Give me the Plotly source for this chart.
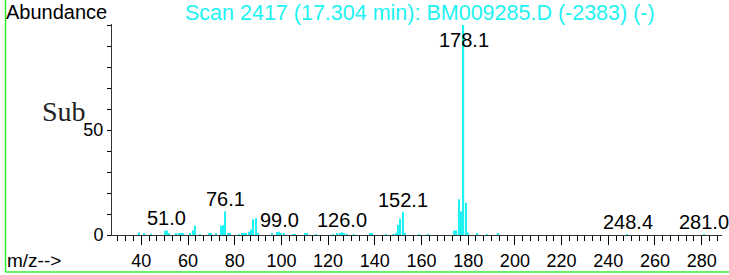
import plotly.graph_objects as go

# ---- data ----
mz = [39, 41, 44, 50, 51, 52, 55, 56, 57, 58, 61, 62, 63, 65, 69, 70, 72,
      74, 75, 76, 77, 78, 82, 83, 84, 85, 86, 87, 88, 89, 90, 96, 98, 99,
      100, 101, 105, 106, 110, 111, 115, 122, 124, 125, 126, 127, 128, 131,
      138, 139, 145, 148, 149, 150, 151, 152, 153, 159, 163, 174, 175, 176,
      177, 178, 179, 180, 184, 188, 193, 248, 281]
intensity = [1.2, 0.5, 0.4, 2.0, 2.2, 0.6, 0.6, 0.5, 0.8, 0.5, 0.7, 2.3, 4.5,
             0.4, 0.8, 0.6, 0.7, 4.4, 4.8, 11.2, 1.0, 0.5, 0.4, 0.5, 0.6, 1.0,
             1.6, 2.6, 7.5, 8.0, 0.6, 0.5, 1.4, 1.5, 1.0, 0.5, 0.4, 0.4, 0.8,
             0.8, 0.4, 0.4, 0.6, 0.9, 1.3, 0.8, 0.4, 0.4, 0.9, 0.5, 0.4, 0.4,
             0.6, 4.8, 7.8, 11.1, 1.0, 0.4, 0.4, 2.2, 2.2, 17.0, 11.2, 100.0,
             15.4, 1.2, 1.0, 0.4, 0.5, 0.3, 0.3]
peak_labels = ["51.0", "76.1", "99.0", "126.0", "152.1", "178.1", "248.4", "281.0"]
peak_mz = [51.0, 76.1, 99.0, 126.0, 152.1, 178.1, 248.4, 281.0]
x_ticks = [40, 60, 80, 100, 120, 140, 160, 180, 200, 220, 240, 260, 280]
y_tickvals = [0, 10, 20, 30, 40, 50, 60, 70, 80, 90, 100]
y_ticktext = ["0", "", "", "", "", "50", "", "", "", "", ""]
title_text = "Scan 2417 (17.304 min): BM009285.D (-2383) (-)"

# ---- layout helpers ----
W, H = 729, 275
L, R, T, B = 112, 7, 24, 40
PW, PH = W - L - R, H - T - B
CYAN = "#1EF2F2"
FONT = "Liberation Sans, Arial, sans-serif"


def px(x):
    return (x - L) / PW


def py(y):
    return (H - B - y) / PH


fig = go.Figure(go.Bar(x=mz, y=intensity, width=0.55,
                       marker=dict(color=CYAN, line=dict(width=0)),
                       hoverinfo="x+y"))

annotations = []
for lab, m in zip(peak_labels, peak_mz):
    near = min(range(len(mz)), key=lambda i: abs(mz[i] - m))
    h = min(intensity[near], 87.0)
    annotations.append(dict(x=m, y=h, xref="x", yref="y", text=lab,
                            showarrow=False, xanchor="center", yanchor="bottom",
                            yshift=-1, font=dict(family=FONT, size=20, color="black")))

annotations += [
    dict(x=px(5), y=py(12.5), xref="paper", yref="paper", text="Abundance",
         showarrow=False, xanchor="left", yanchor="middle", borderpad=0,
         font=dict(family=FONT, size=20, color="black")),
    dict(x=px(420), y=py(13), xref="paper", yref="paper", text=title_text,
         showarrow=False, xanchor="center", yanchor="middle",
         font=dict(family=FONT, size=21.5, color=CYAN)),
    dict(x=px(5), y=py(260), xref="paper", yref="paper", text="m/z-->",
         showarrow=False, xanchor="left", yanchor="middle",
         font=dict(family=FONT, size=19, color="black")),
    dict(x=px(64), y=py(111), xref="paper", yref="paper", text="Sub",
         showarrow=False, xanchor="center", yanchor="middle",
         font=dict(family="Liberation Serif, Times New Roman, serif",
                   size=28, color="#222")),
]

shapes = [
    dict(type="line", xref="paper", yref="paper", x0=px(5.5), x1=px(5.5),
         y0=py(0), y1=py(272), line=dict(color="#33EE33", width=1.5)),
    dict(type="line", xref="paper", yref="paper", x0=px(5.5), x1=px(729),
         y0=py(272), y1=py(272), line=dict(color="#33EE33", width=1.5)),
]

fig.update_layout(
    width=W, height=H,
    margin=dict(l=L, r=R, t=T, b=B, pad=0),
    paper_bgcolor="white", plot_bgcolor="white",
    showlegend=False,
    annotations=annotations,
    shapes=shapes,
    xaxis=dict(range=[27.45, 288.7], tickmode="array", tickvals=x_ticks,
               ticks="outside", ticklen=9, tickwidth=1, tickcolor="black",
               showline=True, linecolor="#333", linewidth=1,
               showgrid=False, zeroline=False, automargin=False,
               tickfont=dict(family=FONT, size=18, color="black"),
               minor=dict(tick0=40, dtick=20 / 6, ticks="outside", ticklen=5,
                          tickwidth=1, tickcolor="black", showgrid=False)),
    yaxis=dict(range=[0, 100.48], tickmode="array", tickvals=y_tickvals,
               ticktext=y_ticktext, ticks="outside", ticklen=4, tickwidth=1,
               tickcolor="black", showline=True, linecolor="#333", linewidth=1,
               showgrid=False, zeroline=False, automargin=False,
               tickfont=dict(family=FONT, size=18, color="black")),
)

fig.write_html("out.html", config={"displayModeBar": False},
               post_script="document.body.style.margin='0';document.body.style.padding='0';")
